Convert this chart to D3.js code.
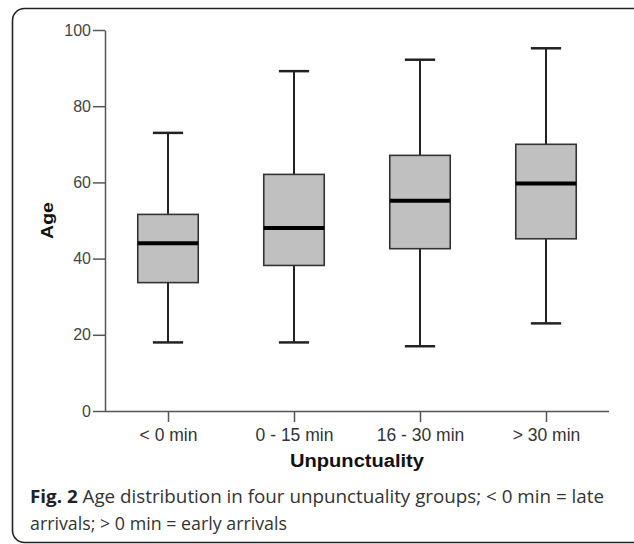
<!DOCTYPE html>
<html>
<head>
<meta charset="utf-8">
<script src="https://cdn.jsdelivr.net/npm/d3@7"></script>
<style>
  body { margin: 0; background: #fff; }
  svg { display: block; }
</style>
</head>
<body>
<div id="chart"></div>
<script>
// groups and box stats
var groups = ["< 0 min", "0 - 15 min", "16 - 30 min", "> 30 min"];
var whiskerLow = [18, 18, 17, 23];
var q1 = [33.7, 38.2, 42.6, 45.2];
var median = [44, 48, 55.2, 59.7];
var q3 = [51.6, 62.1, 67.1, 70];
var whiskerHigh = [73, 89.2, 92.2, 95.2];
var yTicks = [0, 20, 40, 60, 80, 100];

var width = 634, height = 544;
var font = "'Liberation Sans', Arial, sans-serif";

var svg = d3.select("#chart").append("svg")
    .attr("width", width)
    .attr("height", height);

// outer frame
svg.append("rect")
    .attr("x", 12.5).attr("y", 8.5)
    .attr("width", 640).attr("height", 534)
    .attr("rx", 12).attr("ry", 12)
    .style("fill", "none")
    .style("stroke", "#222")
    .style("stroke-width", 1.6);

var x = d3.scalePoint()
    .domain(groups)
    .range([105, 609])
    .padding(0.5);

var y = d3.scaleLinear()
    .domain([0, 100])
    .range([411, 30]);

var boxW = x.step() * 0.48;
var capW = boxW / 2;

var data = groups.map(function(g, i){
    return {g: g, lo: whiskerLow[i], q1: q1[i], med: median[i], q3: q3[i], hi: whiskerHigh[i]};
});

// y axis
var yAxis = svg.append("g")
    .attr("transform", "translate(105,0)")
    .call(d3.axisLeft(y).tickValues(yTicks).tickSize(12).tickPadding(2).tickSizeOuter(0));
yAxis.select(".domain").style("stroke", "#555").style("stroke-width", 1.5);
yAxis.selectAll(".tick line").style("stroke", "#555").style("stroke-width", 1.5);
yAxis.selectAll(".tick text")
    .style("font-family", font)
    .style("font-size", "16px")
    .style("fill", "#444");

// x axis
var xAxis = svg.append("g")
    .attr("transform", "translate(0,411)")
    .call(d3.axisBottom(x).tickSize(11).tickPadding(7).tickSizeOuter(0));
xAxis.select(".domain").attr("d", "M105,0.5H609").style("stroke", "#555").style("stroke-width", 1.5);
xAxis.selectAll(".tick line").style("stroke", "#555").style("stroke-width", 1.5);
xAxis.selectAll(".tick text")
    .style("font-family", font)
    .style("font-size", "17.5px")
    .style("fill", "#333");

// axis titles
svg.append("text")
    .attr("transform", "translate(53," + y(50) + ") rotate(-90)")
    .attr("text-anchor", "middle")
    .attr("textLength", 37)
    .attr("lengthAdjust", "spacingAndGlyphs")
    .style("font-family", font)
    .style("font-weight", "bold")
    .style("font-size", "17px")
    .style("fill", "#111")
    .text("Age");

svg.append("text")
    .attr("x", 357).attr("y", 467)
    .attr("text-anchor", "middle")
    .attr("textLength", 134)
    .attr("lengthAdjust", "spacingAndGlyphs")
    .style("font-family", font)
    .style("font-weight", "bold")
    .style("font-size", "18px")
    .style("fill", "#111")
    .text("Unpunctuality");

// boxes
var box = svg.selectAll(".box").data(data).enter().append("g").attr("class", "box");

box.append("line") // whisker
    .attr("x1", function(d){ return x(d.g); })
    .attr("x2", function(d){ return x(d.g); })
    .attr("y1", function(d){ return y(d.lo); })
    .attr("y2", function(d){ return y(d.hi); })
    .style("stroke", "#222").style("stroke-width", 2);

box.selectAll(".cap").data(function(d){ return [[d.g, d.lo], [d.g, d.hi]]; })
    .enter().append("line")
    .attr("x1", function(d){ return x(d[0]) - capW / 2; })
    .attr("x2", function(d){ return x(d[0]) + capW / 2; })
    .attr("y1", function(d){ return y(d[1]); })
    .attr("y2", function(d){ return y(d[1]); })
    .style("stroke", "#222").style("stroke-width", 2.5);

box.append("rect")
    .attr("x", function(d){ return x(d.g) - boxW / 2; })
    .attr("y", function(d){ return y(d.q3); })
    .attr("width", boxW)
    .attr("height", function(d){ return y(d.q1) - y(d.q3); })
    .style("fill", "#c0c0c0")
    .style("stroke", "#333")
    .style("stroke-width", 1.6);

box.append("line") // median
    .attr("x1", function(d){ return x(d.g) - boxW / 2; })
    .attr("x2", function(d){ return x(d.g) + boxW / 2; })
    .attr("y1", function(d){ return y(d.med); })
    .attr("y2", function(d){ return y(d.med); })
    .style("stroke", "#000").style("stroke-width", 4);

// caption
var cap = svg.append("text")
    .attr("x", 30).attr("y", 503)
    .attr("textLength", 574)
    .attr("lengthAdjust", "spacingAndGlyphs")
    .style("font-family", "'Open Sans', sans-serif")
    .style("font-size", "17.5px")
    .style("fill", "#333");
cap.append("tspan").style("font-weight", "bold").style("fill", "#222").text("Fig. 2");
cap.append("tspan").text(" Age distribution in four unpunctuality groups; < 0 min = late");

svg.append("text")
    .attr("x", 30).attr("y", 530)
    .attr("textLength", 257)
    .attr("lengthAdjust", "spacingAndGlyphs")
    .style("font-family", "'Open Sans', sans-serif")
    .style("font-size", "17.5px")
    .style("fill", "#333")
    .text("arrivals; > 0 min = early arrivals");
</script>
</body>
</html>
